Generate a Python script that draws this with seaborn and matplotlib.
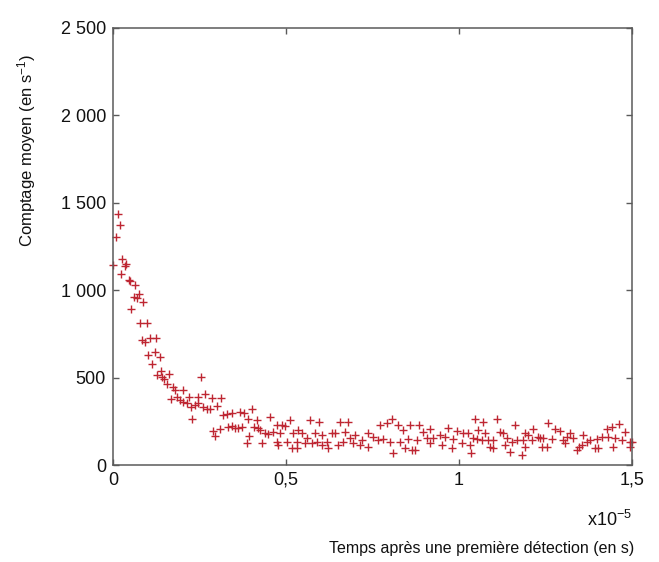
import matplotlib
matplotlib.use("Agg")
import matplotlib.pyplot as plt
import seaborn as sns
import pandas as pd

# time, in units of 1e-5 s
t_e5 = [
    0.000, 0.009, 0.014, 0.021, 0.022, 0.027, 0.034, 0.038, 0.045, 0.050,
    0.053, 0.061, 0.063, 0.068, 0.075, 0.079, 0.085, 0.088, 0.092, 0.098,
    0.101, 0.108, 0.114, 0.121, 0.123, 0.128, 0.135, 0.140, 0.142, 0.147,
    0.155, 0.163, 0.168, 0.174, 0.179, 0.186, 0.194, 0.203, 0.203, 0.213,
    0.221, 0.225, 0.227, 0.237, 0.247, 0.247, 0.254, 0.261, 0.266, 0.271,
    0.280, 0.285, 0.290, 0.295, 0.300, 0.309, 0.312, 0.319, 0.330, 0.333,
    0.343, 0.345, 0.353, 0.362, 0.367, 0.372, 0.379, 0.386, 0.391, 0.394,
    0.401, 0.408, 0.415, 0.420,
    0.425, 0.430, 0.439, 0.449, 0.454, 0.463, 0.473, 0.473, 0.478, 0.483,
    0.488, 0.497, 0.502, 0.512, 0.516, 0.521, 0.531, 0.531, 0.536, 0.545,
    0.555, 0.561, 0.569, 0.574, 0.584, 0.589, 0.595, 0.603, 0.603, 0.618,
    0.622, 0.632, 0.642, 0.651, 0.656, 0.666, 0.671, 0.678, 0.685, 0.695,
    0.699, 0.714, 0.719, 0.738, 0.738, 0.752, 0.767, 0.772, 0.781, 0.791,
    0.801, 0.805, 0.810, 0.825, 0.829, 0.839, 0.844, 0.853, 0.858, 0.863,
    0.873, 0.878, 0.885, 0.897, 0.907, 0.916, 0.916, 0.926, 0.945, 0.950,
    0.960, 0.969,
    0.979, 0.984, 0.993, 1.008, 1.012, 1.027, 1.032, 1.036, 1.041, 1.046,
    1.051, 1.055, 1.066, 1.070, 1.075, 1.085, 1.090, 1.099, 1.099, 1.109,
    1.118, 1.128, 1.133, 1.138, 1.147, 1.152, 1.162, 1.167, 1.181, 1.186,
    1.191, 1.191, 1.200, 1.210, 1.215, 1.229, 1.234,
    1.239, 1.244, 1.253, 1.258, 1.268, 1.277, 1.292, 1.301, 1.306, 1.311,
    1.321, 1.330, 1.340, 1.348, 1.355, 1.359, 1.369, 1.379, 1.393, 1.398,
    1.402, 1.412, 1.427, 1.431, 1.441, 1.446, 1.451, 1.462, 1.470, 1.480,
    1.494, 1.494, 1.500,
]

# mean count rate (s^-1)
counts = [
    1142, 1305, 1438, 1374, 1092, 1180, 1140, 1150, 1060, 1055,
    894, 963, 1031, 955, 978, 812, 713, 932, 705, 812,
    632, 727, 576, 647, 729, 514, 620, 536, 504, 493,
    466, 519, 375, 447, 428, 390, 371, 428, 361, 356,
    390, 333, 266, 342, 352, 390, 504, 329, 409, 320,
    320, 384, 194, 166, 340, 205, 384, 284, 289, 219,
    222, 299, 213, 209, 304, 219, 299, 124, 266, 166,
    318, 219, 257, 209,
    200, 124, 181, 175, 276, 190, 228, 133, 114, 181,
    228, 223, 133, 257, 95, 181, 95, 133, 200, 181,
    124, 152, 257, 124, 184, 133, 244, 171, 114, 133,
    95, 181, 181, 114, 244, 133, 190, 244, 152, 124,
    171, 114, 143, 181, 104, 162, 143, 228, 147, 238,
    133, 261, 70, 228, 133, 200, 95, 147, 228, 86,
    86, 143, 228, 190, 152, 204, 124, 152, 171, 114,
    162, 209,
    95, 147, 196, 124, 184, 181, 114, 70, 152, 266,
    147, 200, 143, 247, 184, 143, 104, 143, 95, 261,
    190, 184, 114, 152, 76, 133, 228, 143, 57, 143,
    181, 104, 171, 143, 204, 162, 152,
    104, 152, 104, 238, 147, 204, 196, 143, 128, 162,
    181, 152, 86, 104, 114, 171, 133, 143, 95, 147,
    95, 158, 204, 162, 219, 104, 152, 232, 143, 190,
    133, 104, 133,
]

y_ticks = [0, 500, 1000, 1500, 2000, 2500]
y_tick_labels = ["0", "500", "1 000", "1 500", "2 000", "2 500"]
x_ticks = [0, 0.5, 1, 1.5]
x_tick_labels = ["0", "0,5", "1", "1,5"]

df = pd.DataFrame({"t": t_e5, "c": counts})

sns.set_style("white")
plt.rcParams["font.family"] = ["Liberation Sans", "DejaVu Sans"]
plt.rcParams["mathtext.default"] = "regular"

fig = plt.figure(figsize=(6.59, 5.62), dpi=100)
ax = fig.add_axes([113 / 659, 97 / 562, 519 / 659, 437 / 562])

sns.scatterplot(data=df, x="t", y="c", marker="+", s=36, color="#be2632",
                linewidth=1.0, ax=ax, legend=False, clip_on=False)

ax.set_xlim(0, 1.5)
ax.set_ylim(0, 2500)
ax.set_xticks(x_ticks)
ax.set_xticklabels(x_tick_labels)
ax.set_yticks(y_ticks)
ax.set_yticklabels(y_tick_labels)

for sp in ax.spines.values():
    sp.set_color("#5a5a5a")
    sp.set_linewidth(1.1)
ax.tick_params(axis="both", which="both", direction="in", length=4, width=1,
               color="#5a5a5a", labelsize=13, labelcolor="#111111",
               top=True, right=True, bottom=True, left=True, pad=5)

ax.set_xlabel("Temps après une première détection (en s)", fontsize=11.5,
              color="#111111")
ax.xaxis.set_label_coords(0.71, -0.175)
ax.set_ylabel("Comptage moyen (en s$^{-1}$)", fontsize=12, color="#111111")
ax.yaxis.set_label_coords(-0.145, 0.72)
ax.text(1.0, -0.125, "x10$^{-5}$", transform=ax.transAxes, ha="right",
        va="center", fontsize=13, color="#111111")

fig.savefig("out.png", dpi=100, facecolor="white")
